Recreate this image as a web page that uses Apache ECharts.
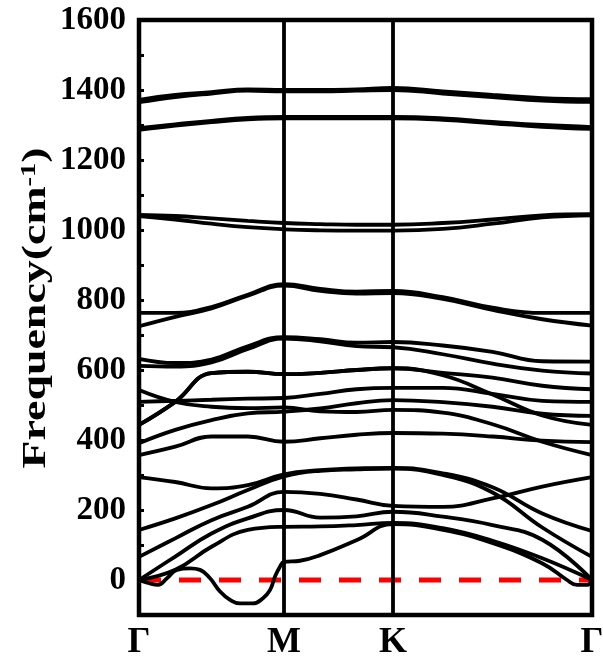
<!DOCTYPE html>
<html>
<head>
<meta charset="utf-8">
<script src="https://cdn.jsdelivr.net/npm/echarts@6/dist/echarts.min.js"></script>
<style>
  html, body { margin: 0; padding: 0; background: #fff; }
  #chart { width: 603px; height: 659px; }
</style>
</head>
<body>
<div id="chart"></div>
<script>
// k-path: Γ - M - K - Γ
const kTicks = [0, 1, 1.752, 3.124];
const kNames = ["Γ", "M", "K", "Γ"];

// sample positions along the path (shared by most bands)
const kSamples = [0, 0.25, 0.5, 0.75, 1, 1.25, 1.5, 1.752, 2.095, 2.438, 2.781, 3.124];

// high frequency bands
const high1 = [1372, 1386, 1394, 1402, 1400, 1400, 1402, 1406, 1396, 1386, 1377, 1374];
const high2 = [1365, 1380, 1390, 1398, 1396, 1396, 1398, 1400, 1390, 1380, 1370, 1366];
const high3 = [1291, 1302, 1312, 1320, 1323, 1323, 1323, 1323, 1319, 1309, 1300, 1294];
const high4 = [1286, 1298, 1308, 1316, 1319, 1319, 1319, 1319, 1315, 1305, 1295, 1289];
const band1040a = [1043, 1040, 1033, 1026, 1020, 1017, 1015, 1015, 1020, 1030, 1042, 1045];
const band1040b = [1040, 1030, 1018, 1008, 1002, 999, 998, 998, 1003, 1018, 1036, 1042];

// 700-850 bands
const band760 = [763, 763, 780, 815, 845, 832, 824, 826, 808, 778, 763, 763];
const band725 = [725, 752, 776, 812, 841, 826, 818, 820, 803, 772, 745, 727];

// middle bands
const mid1 = [632, 620, 630, 668, 694, 688, 678, 680, 670, 652, 625, 624];
const mid2 = [612, 610, 622, 660, 690, 682, 668, 665, 645, 618, 598, 590];
const mid3 = [443, 509, 591, 595, 588, 592, 600, 605, 592, 578, 555, 545];
const mid4 = [509, 512, 515, 518, 520, 532, 545, 549, 549, 532, 512, 509];
const mid5 = [543, 509, 495, 491, 493, 482, 480, 486, 478, 445, 395, 357];
const mid6 = [391, 429, 457, 476, 481, 490, 505, 514, 508, 495, 475, 469];
const mid7 = [357, 381, 410, 410, 395, 405, 415, 420, 418, 410, 398, 394];
const mid8 = [443, 509, 591, 595, 588, 592, 600, 605, 585, 530, 470, 443];

// low bands
const low1 = [294, 280, 262, 271, 302, 314, 319, 320, 305, 265, 190, 140];
const low2 = [143, 176, 214, 257, 296, 312, 316, 318, 300, 250, 150, 66];
const low3 = [66, 119, 171, 209, 252, 246, 230, 212, 209, 233, 267, 294];
const low4 = [0, 67, 133, 176, 200, 178, 182, 195, 181, 157, 115, 0];
const low5 = [0, 29, 95, 143, 152, 153, 157, 163, 148, 112, 62, 0];

// the soft band with imaginary pockets has its own sampling
const dipK = [0, 0.076, 0.131, 0.193, 0.262, 0.352, 0.421, 0.49, 0.559, 0.628, 0.697, 0.786,
  0.855, 0.903, 0.938, 0.972, 1, 1.11, 1.25, 1.503, 1.752, 2.097, 2.441, 2.779, 2.952, 3.021, 3.09, 3.124];
const dipVals = [0, -10, -14, 5, 29, 33, 29, 5, -33, -57, -67, -67,
  -52, -29, 10, 38, 52, 55, 71, 114, 160, 143, 105, 48, 0, -14, -14, 0];

const bands = [high1, high2, high3, high4, band1040a, band1040b, band760, band725,
  mid1, mid2, mid3, mid4, mid5, mid6, mid7, mid8, low1, low2, low3, low4, low5];

const yTicks = [0, 200, 400, 600, 800, 1000, 1200, 1400, 1600];

const chart = echarts.init(document.getElementById("chart"), null, { renderer: "canvas" });

const font = "'Liberation Serif', 'Times New Roman', serif";

function bandSeries(ks, vals) {
  return {
    type: "line",
    data: ks.map((k, i) => [k, vals[i]]),
    showSymbol: false,
    symbol: "none",
    smooth: 0.45,
    lineStyle: { color: "#000", width: 3.8 },
    z: 3,
    silent: true
  };
}

const series = [
  {
    // zero line + high symmetry points
    type: "line",
    data: [[kTicks[0], 0], [kTicks[3], 0]],
    symbol: "none",
    lineStyle: { color: "#ff0000", width: 5, type: [22, 18] },
    z: 2,
    silent: true,
    markLine: {
      symbol: "none",
      silent: true,
      label: { show: false },
      lineStyle: { color: "#000", width: 3.8, type: "solid" },
      data: [{ xAxis: kTicks[1] }, { xAxis: kTicks[2] }]
    }
  }
];
bands.forEach(b => series.push(bandSeries(kSamples, b)));
series.push(bandSeries(dipK, dipVals));

const option = {
  animation: false,
  backgroundColor: "#fff",
  grid: {
    left: 139, right: 11, top: 20, bottom: 44,
    outerBoundsMode: "none",
    containLabel: false,
    show: true, borderColor: "#000", borderWidth: 4.5, backgroundColor: "transparent"
  },
  xAxis: {
    type: "value",
    min: kTicks[0],
    max: kTicks[3],
    axisLine: { show: false },
    axisTick: { show: false },
    splitLine: { show: false },
    axisLabel: {
      customValues: kTicks,
      formatter: v => {
        let best = 0;
        kTicks.forEach((k, i) => { if (Math.abs(k - v) < Math.abs(kTicks[best] - v)) best = i; });
        return kNames[best];
      },
      margin: 10,
      color: "#000",
      fontFamily: font,
      fontWeight: "bold",
      fontSize: 36
    }
  },
  yAxis: {
    type: "value",
    min: -100,
    max: 1600,
    interval: 100,
    axisLine: { show: false },
    splitLine: { show: false },
    axisTick: { show: true, inside: true, length: 5, lineStyle: { color: "#000", width: 3 } },
    axisLabel: {
      formatter: v => (yTicks.indexOf(v) >= 0 ? String(v) : ""),
      margin: 13,
      color: "#000",
      fontFamily: font,
      fontWeight: "bold",
      fontSize: 33
    }
  },
  graphic: [
    {
      type: "text",
      x: 36,
      y: 308,
      rotation: Math.PI / 2,
      scaleX: 1.35,
      style: {
        text: "Frequency(cm{sup|-1})",
        font: "bold 34px 'Liberation Serif'",
        fill: "#000",
        align: "center",
        verticalAlign: "middle",
        rich: {
          sup: { fontSize: 21, fontWeight: "bold", fontFamily: font, verticalAlign: "top", fill: "#000" }
        }
      }
    }
  ],
  series: series
};

chart.setOption(option);
</script>
</body>
</html>
